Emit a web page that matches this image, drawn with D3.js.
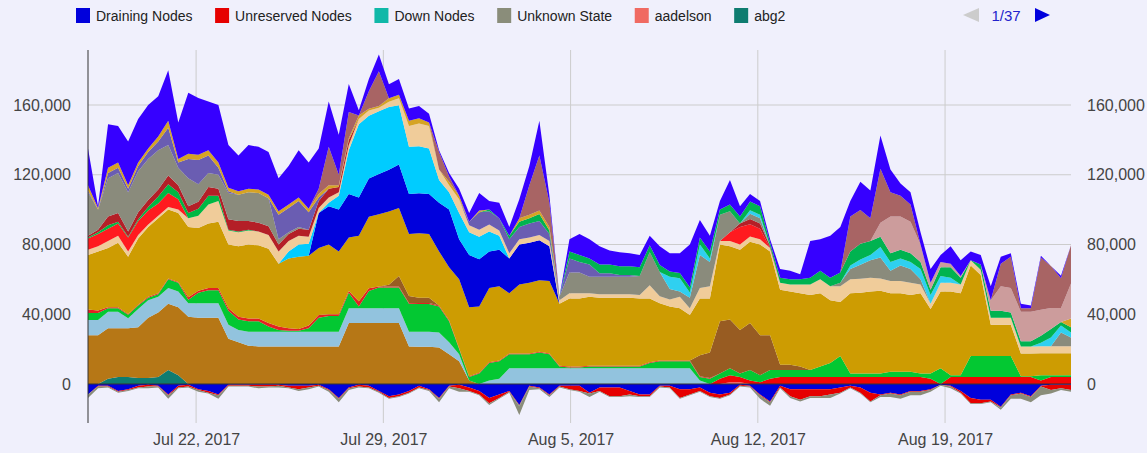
<!DOCTYPE html>
<meta charset="utf-8">
<title>Cluster usage by user</title>
<script src="https://d3js.org/d3.v7.min.js"></script>
<style>
  body { margin: 0; background: #f0f0fc; }
  svg text { font-family: "Liberation Sans", Arial, Helvetica, sans-serif; }
</style>
<body>
<div id="chart"></div>
<script>
// one sample every 9 hours, starting Jul 17 2017 23:00 (values in thousands)
var startTime = Date.UTC(2017, 6, 17, 23);
var stepHours = 9;
var tickDates = ["2017-07-22", "2017-07-29", "2017-08-05", "2017-08-12", "2017-08-19"];
var yTicks = [0, 40000, 80000, 120000, 160000];

var draining = [
  -6,-1,-1,-4,-3,-1,-0.5,-1,-6,-1,
  -0.5,-3,-4,-6,-0.5,-0.5,-0.5,-0.5,-0.5,-0.5,
  -1,-1,-1,-0.5,-3,-8,-2,-0.5,-1,-4,
  -7,-6,-4,-1,-3,-8,-1,-0.5,-2,-4,
  -8,-6,-4,-12,-1,-2,-6,-1,-1,-1,
  -5,-2,-2,-2,-4,-6,-6,-1,-1,-3,
  -3,-2,-5,-6,-5,-0.5,-1,-6,-10,-1,
  -3,-3,-3,-3,-3,-2,-1,-2,-5,-6,
  -5,-6,-4,-4,-3,-0.5,-1,-4,-8,-9,
  -9,-13,-6,-5,-7,-1,-0.5,-0.5,-0.5];
var unreserved = [
  0,-0.5,-0.5,-0.5,-0.5,-1,-1,-0.5,-0.5,-1,
  -1,-0.5,-1,-0.5,-0.5,-0.5,-0.5,-1,-1,-0.5,
  -1,-2,-1,-0.5,-0.5,-0.5,-0.5,-1,-1,-0.5,
  -1,-1,-1,-1,-0.5,-0.5,-0.5,-2,-2,-2,
  -3,-2,-0.5,-0.5,-0.5,-0.5,-0.5,-0.5,-2,-3,
  -0.5,-2,-5,-5,-2,-1,-1,-0.5,-1,-5,
  -3,-2,-2,-2,-1,-0.5,-0.5,-0.5,-0.5,-1,
  -4,-6,-4,-4,-3,-3,-1,-3,-5,-0.5,
  -0.5,-0.5,-0.5,-0.5,-0.5,0,-0.5,-1,-3,-2,
  -1,-0.5,-0.5,-0.5,-0.5,-0.5,-3,-2,-3];
var down = [
  0,0,0,0,0,0,0,0,0,0,
  0,0,0,0,0,0,0,0,0,0,
  0,0,0,0,0,0,0,0,0,0,
  0,0,0,0,0,0,0,0,0,0,
  0,0,0,-0.3,0,0,0,0,0,0,
  0,0,0,0,0,0,0,0,0,0,
  0,0,0,0,0,0,0,0,0,0,
  0,0,0,0,0,0,0,0,0,0,
  0,0,0,0,0,0,0,0,0,0,
  0,-0.3,0,0,0,0,0,0,0];
var unknown = [
  -2,-1,-0.5,-0.5,-0.5,-0.5,-1,-0.5,-2,-0.5,
  -0.5,-1,-0.5,-2,-0.5,-0.5,-0.5,-1,-0.5,-1,
  -0.5,-1,-1,-0.5,-1,-2,-1,-0.5,-0.5,-0.5,
  -0.5,-0.5,-0.5,-0.5,-0.5,-2,-1,-2,-0.5,-0.5,
  -1,-0.5,-0.5,-5,-2,-0.5,-1,-0.5,-0.5,-0.5,
  -2,-0.5,-0.5,-0.5,-1,-0.5,-0.5,-0.5,-0.5,-0.5,
  -0.5,-0.5,-0.5,-0.5,-0.5,-0.5,-0.5,-2,-2,-0.5,
  -1,-1,-1,-1,-2,-0.5,-0.5,-0.5,-0.5,-1,
  -2,-2,-2,-2,-1,-0.5,-1,-0.5,-0.5,-0.5,
  -0.5,-1,-2,-3,-3,-5,-2,-1,-1];

var aadelson = [
  0,0,0,0,0,0,0,0,0,0, 0,0,0,0,0,0,0,0,0,0, 0,0,0,0,0,0,0,0,0,0,
  0,0,0,0,0,0,0,0,0,0, 0,0,0,0,0,0,0,0,0,0, 0,0,0,0,0,0,0,0,0,0,
  0,0,0,0,1,1,0,0,0,0, 0,0,0,0,0,0,0,0,0,0, 0,0,0,0,0,0,0,0,0,0,
  0,0,0,0,0,0,0,0,0];
var abg2 = [
  0,0,3,4,4,3.5,3.5,4,8,5, 0,0,0,0,0,0,0,0,0,0, 0,0,0,0,0,0,0,0,0,0,
  0,0,0,0,0,0,0,0,0,0, 0,0,0,0,0,0,0,0,0,0, 0,0,0,0,0,0,0,0,0,0,
  0,0,0,0,0,0,0,0,0,0, 0,0,0,0,0,0,0,0,0,0, 0,0,0,0,0,0,0,0,0,0,
  0,0,0,0,0,0,0,0,0];
var redLow = [
  0,0,0,0,0,0,0,0,0,0, 0,0,0,0,0,0,0,0,0,0, 0,0,0,0,0,0,0,0,0,0,
  0,0,0,0,0,0,0,0,0,0, 0,0,0,0,0,0,0,0,0,0, 0,0,0,0,0,0,0,0,0,0,
  0,0,0,3,4,3,2,1,3,4,
  4,4,4,4,4,4,4,4,4,4,
  4,4,4,4,3,0,4,4,4,4,
  4,4,4,4,4,2,4,4,4];
var brown = [
  28,28,29,28,28,29,34.5,37,38,39,
  38.6,38,38,38,26,24,22,21.5,21.5,21.5,
  21.5,21.5,21.5,21.5,21.5,21.5,35,35,35,35,
  35,35,21.5,21.4,21.4,21,17,13,2,0,
  0,0,0,0,0,0,0,0,0,0, 0,0,0,0,0,0,0,0,0,0, 0,0,0,0,0,0,0,0,0,0,
  0,0,0,0,0,0,0,0,0,0, 0,0,0,0,0,0,0,0,0,0, 0,0,0,0,0,0,0,0,0];
var lightBlue = [
  8.7,8.7,9.5,9.5,5.7,10.5,10,9,9,9,
  7.7,8.3,8.3,8.3,8,7,8,8.5,8.5,8.5,
  8.5,8.5,8.5,8.5,8.5,8.5,8.4,8.4,8.4,8.4,
  8.4,8.4,8.5,8.5,8.5,8.5,7,4,0,0,
  2,3,9,9,9,9,9,9,9,9,
  9,9,9,9,9,9,9,9,9,9,
  9,2,0,0,0,0,0,0,0,0,
  0,0,0,0,0,0,0,0,0,0, 0,0,0,0,0,0,0,0,0,0, 0,0,0,0,0,0,0,0,0];
var green = [
  4,4,2,2,2,2,1.5,1.5,5,5,
  2,6,7.5,7.5,8,6,6,6,3,1,
  0.5,0.5,2,8,9,9,9,1,10,12,
  12,12,16,16,16,15,12,3,2,6,
  10,10,8,8,8,9,8,1,0.5,0.5,
  1,1,1,1,1,1,3,4,4,4,
  4,2,3,3,4,2,6,4,5,4,
  4,4,4,6,8,12,2,2,2,2,
  3,3,3,2,3,9,1,1,12,12,
  12,12,12,0.5,0.5,3,1,1,1];
var redThin = [
  2,1.5,0.5,0.5,0.5,0.5,0.5,0.5,0.5,0.5,
  1.5,1.2,1.2,1.2,1.5,1.5,1.5,1.5,2,2,
  1.5,1,1.5,1.5,1,1,1,3,1.5,0.5,
  0.5,0.5,0.5,0.5,0.5,0.5,0.5,0.5,0.5,0.5,
  0.5,0.5,0.5,0.5,0.5,0.5,0.5,0.5,0.5,0.5,
  0.5,0.5,0.5,0.5,0.5,0.5,0.5,0.5,0.5,0.5,
  0.5,0.5,0.5,0,0,0,0,0,0,0,
  0,0,0,0,0,0,0,0,0,0, 0,0,0,0,0,0,0,0,0,0, 0,0,0,0,0,0,0,0,0];
var darkBrown = [
  0,0,0,0,0,0,0,0,0,0, 0,0,0,0,0,0,0,0,0,0, 0,0,0,0,0,0,0,0,0,0,
  1,6,4,3,3,0,0,0,0,0,
  0,0,0,0,0,0,0,0,0,0, 0,0,0,0,0,0,0,0,0,0,
  0,12,14.5,30,28,25,27,23,20,3,
  3,2,0,0,0,0,0,0,0,0,
  0,0,0,0,0,0,0,0,0,0, 0,0,0,0,0,0,0,0,0];
var gold = [
  31.3,33.8,34,37,32.8,38,40,43,39.5,39.5,
  40.2,36,37,38,36.5,40.5,42.5,42,42.5,36,
  40,41.5,40,38.5,40,36,30.6,37.6,41,41.5,
  42,39,35.5,37,36.6,31,30.5,39.5,39.5,38,
  42.5,42.5,34.5,39.5,40.5,41,41.5,35.5,39,39,
  39.5,39,39,39,39,38.5,36.5,32.8,31,30,
  26,32.5,31,44,42,46,46.6,52,48,43,
  42,42,43,42,36,31,46,46.4,47,47.5,
  45,45,44,46,37,44,48,47,52,46.5,
  18,18,18,13,13,12.6,12.6,12.6,12.6];
var deepBlue = [
  0,0,0,0,0,0,0,0,0,0, 0,0,0,0,0,0,0,0,0,0,
  0,0,0,20,22,24,25,22,22,23,
  24,25,23,23,23,28,33,23,30,27,
  21,21,20,23,23,23,20,0,0,0,
  0,0,0,0,0,0,0,0,0,0, 0,0,0,0,0,0,0,0,0,0, 0,0,0,0,0,0,0,0,0,0,
  0,0,0,0,0,0,0,0,0,0, 0,0,0,0,0,0,0,0,0];
var cyan = [
  0,0,0,0,0,0,0,0,0,0, 0,0,0,0,0,0,0,0,0,0,
  4,7,7,0,2,8,25,42,36,36,
  36,34,27,27,26,13,10,15,13,13,
  11.5,8,0,0,0,0,0,0,0,0,
  0,0,0,0,0,0,0,0,0,0, 0,0,0,0,0,0,0,0,0,0, 0,0,0,0,0,0,0,0,0,0,
  0,0,0,0,0,0,0,0,0,0, 0,0,0,0,0,0,0,0,0];
var wheat = [
  3,3,4,4,3,2,1.5,1.5,1.5,2,
  5,7,11,12,8,8,8,8,8,7,
  6,5,4,3,3,2,3,3,3,2,
  3,4,12,13,13,6,4,8,4,4,
  4,3,3,3,3,3,3,2,3,3,
  2,2,2,2,2,2,7.6,4,4,6.5,
  4,6,7,2,3,3,3,3,2,4,
  4,5,6,8,8,9,8,8,8,7,
  7,7,7,5,3,5,5,5,3,3,
  4,4,4,4,4,4,4,4,4];
var brightRed = [
  6.5,7,7,7,8,8,8,7,8,6,
  0,0,0,0,0,0,0,0,0,0, 0,0,0,0,0,0,0,0,0,0, 0,0,0,0,0,0,0,0,0,0,
  0,0,0,0,0,0,0,0,0,0, 0,0,0,0,0,0,0,0,0,0,
  0,0,0,0,5,10,7,6,0,0,
  0,0,0,0,0,0,0,0,0,0, 0,0,0,0,0,0,0,0,0,0, 0,0,0,0,0,0,0,0,0];
var green2 = [
  0.5,1,2,1,0.5,1,2,4,5,4,
  3,4,5,3,0.5,0.5,0.5,0,0,0,
  0,0,0,0,0,0,0,0,0,0, 0,0,0,0,0,0,0,0,0,0, 0,0,0,0,0,0,0,0,0,0,
  0,0,0,0,0,0,0,0,0,0, 0,0,0,0,0,0,0,0,0,0, 0,0,0,0,0,0,0,0,0,0,
  0,0,0,0,0,0,0,0,0,0, 0,0,0,0,0,0,0,0,0];
var darkRed = [
  1,1.5,5,5,3,4,4,4,5,4,
  4,4,5,4,6,6,5,5,5,4,
  4,4,4,4,5,3,3,0,0,0,
  0,0,0,0,0,0,0,0,0,0, 0,0,0,0,0,0,0,0,0,0, 0,0,0,0,0,0,0,0,0,0,
  0,0,0,0,0,2,3,3,1,0,
  0,0,0,0,0,0,0,0,0,0, 0,0,0,0,0,0,0,0,0,0, 0,0,0,0,0,0,0,0,0];
var gray = [
  25,11.5,22,23,22.5,23.5,23.5,22.5,17.5,10,
  16,10,8,8,15,15,16.5,17,16,3,
  1,1,0,0,0,0,0,0,0,0,
  0,0,0,0,0,0,0,0,0,0,
  0,0,0,0,0,0,0,2,12,12,
  9.5,10,10,10,10,11,19,14,6,3,
  6,19,14,15,12,0,3,3,0,0,
  0,0,0,0,0,2,6,8,10,12,
  6,9,8,3,0,0,0,0,0,0,
  0,0,0,0,0,0,0,8,5];
var slate = [
  1,0,3,3,2,3,4,5,10,3,
  11,14,10,4,1,0,0,0,0,14,
  14,15,10,2,0,0,0,0,0,0,
  0,0,0,0,0,0,0,0,2,10,
  7.5,7,8,7,8,8,4,0,8,6,
  7,2,2,1,1,0,0,0,0,0,
  0,0,0,0,0,0,0,0,0,0, 0,0,0,0,0,0,0,0,0,0, 0,0,0,0,0,0,0,0,0,0,
  0,0,0,0,0,0,0,0,0];
var cyan2 = [
  0,0,0,0,0,0,0,0,0,0, 0,0,0,0,0,0,0,0,0,0, 0,0,0,0,0,0,0,0,0,0,
  0,0,0,0,0,0,0,0,0,0, 0,0,0,0,0,0,0,0,0,0,
  0,0,0,0,0,0,0,0,7,7.7,
  3,6,2,0,0,0,2,2,0,0,
  0,0,0,0,0,0,2,3,3,6,
  5,4,4,6,5,4,3,0,0,0,
  0,0,0,0,0,2,5,4,3];
var green3 = [
  0,0,0,0,0,0,0,0,0,0, 0,0,0,0,0,0,0,0,0,0, 0,0,0,0,0,0,0,0,0,0,
  0,0,0,0,0,0,0,0,0,0,
  1,0,2,3,3,4,2,0,4,4,
  3.5,5,5,5,5,5,4,4,3,3,
  3,4,4,3,4,4,5,5,2,3,
  3,3,4,5,5,6,8,9,8,6,
  5,5,5,4,3,5,6,4,0,3,
  4,4,3,3,3,4,5,2,3];
var tan = [
  3,1,3,3,2,2,2,3,4,2,
  3,3,3,3,2,2,2,2,2,2,
  2,2,2,2,2,1,1,2,1,1,
  2,2,3,3,2,0,2,2,0,1,
  0,0,0,2,2,2,2,0,0,0,
  0,0,0,0,0,0,0,0,0,0, 0,0,0,0,0,0,0,0,0,0, 0,0,0,0,0,0,0,0,0,0,
  0,0,0,0,0,0,0,0,0,0,
  0,0,0,0,0,0,0,0,5];
var pink = [
  0,0,0,0,0,0,0,0,0,0, 0,0,0,0,0,0,0,0,0,0, 0,0,0,0,0,0,0,0,0,0,
  0,0,0,0,0,0,0,0,0,0, 0,0,0,0,0,0,0,0,0,0, 0,0,0,0,0,0,0,0,0,0,
  0,0,0,0,0,0,0,0,0,0,
  0,0,0,0,0,0,0,0,0,8,
  21,19,18,10,4,3,2,1,0,0,
  6,14,14,17,17,15,12,8,20];
var rosy = [
  0,0,0,0,0,0,0,0,0,0, 0,0,0,0,0,0,0,0,0,0,
  0,0,0,3,22,6,15,0,10,20,
  0,0,0,0,0,10,3,0,0,0,
  0,0,0,0,17,31.5,14,0,0,0,
  0,0,0,0,0,0,0,0,0,0, 0,0,0,0,0,0,0,0,0,0,
  0,0,0,0,0,0,20,19.4,13,31,
  14,12,10,0,0,0,0,0,0,0,
  0,13,18,2,2,30,24,17,22];
var violet = [
  21,1,25,21,25,25,25,23,29,21,
  35,32.5,28,33,24.5,20.5,25,24.5,24.5,19,
  22,27,26.5,23,26,23,16,3,7,9.5,
  8,9,7,7,5,1,2,4,5,10,
  5,9,5,11,11,20,4,0,7,12,
  11,10.5,8,8,7.5,7,5.4,10.7,10.5,11.3,
  24.5,10,9,5,14,6,4.4,3,2,5,
  5,3,21,18,24,26,9,16.2,16,19,
  13,7,7,7,8,4,10,9,5,5.5,
  8,4,2,2.5,1.5,1,0,1.5,0];

// node-state series (negative, first one nearest zero)
var stateSeries = [
  ["Draining Nodes", draining, "#0000dc"],
  ["Unreserved Nodes", unreserved, "#e60000"],
  ["Down Nodes", down, "#10b8a8"],
  ["Unknown State", unknown, "#8a8d7a"]
];
// user series, stacked upward from zero in this order
var userSeries = [
  ["aadelson", aadelson, "#f06a62"],
  ["abg2", abg2, "#0e7c70"],
  ["u_redLow", redLow, "#f20505"],
  ["u_brown", brown, "#b67716"],
  ["u_lightBlue", lightBlue, "#92c3de"],
  ["u_green", green, "#03c832"],
  ["u_redThin", redThin, "#e32222"],
  ["u_darkBrown", darkBrown, "#985c22"],
  ["u_gold", gold, "#cd9c02"],
  ["u_deepBlue", deepBlue, "#0000dc"],
  ["u_cyan", cyan, "#00ccff"],
  ["u_wheat", wheat, "#f0cc9a"],
  ["u_brightRed", brightRed, "#ff1a1f"],
  ["u_green2", green2, "#00b843"],
  ["u_darkRed", darkRed, "#b41f27"],
  ["u_gray", gray, "#8a8b7c"],
  ["u_slate", slate, "#6a5db2"],
  ["u_cyan2", cyan2, "#2fd0f0"],
  ["u_green3", green3, "#00b350"],
  ["u_tan", tan, "#d6a324"],
  ["u_pink", pink, "#cc9c9c"],
  ["u_rosy", rosy, "#a86464"],
  ["u_violet", violet, "#3600ff"]
];
var series = stateSeries.concat(userSeries);
var legendCount = 6;

var W = 1147, H = 453;
var plotLeft = 88, plotRight = 1071, plotTop = 50, plotBottom = 423;

var n = violet.length;
var rows = d3.range(n).map(function(i) {
  var r = { t: new Date(startTime + i * stepHours * 3600e3) };
  series.forEach(function(s) { r[s[0]] = (s[1][i] || 0) * 1000; });
  return r;
});
var colorOf = {};
series.forEach(function(s) { colorOf[s[0]] = s[2]; });

var negStack = d3.stack().keys(stateSeries.map(function(s) { return s[0]; }))(rows);
var posStack = d3.stack().keys(userSeries.map(function(s) { return s[0]; }))(rows);
var stacked = negStack.concat(posStack);

var x = d3.scaleUtc()
  .domain([rows[0].t, rows[n - 1].t])
  .range([plotLeft, plotRight]);
var y = d3.scaleLinear()
  .domain([-22366, 191541])
  .range([plotBottom, plotTop]);

var svg = d3.select("#chart").append("svg")
  .attr("width", W).attr("height", H);
svg.append("rect").attr("width", W).attr("height", H).attr("fill", "#f0f0fc");

svg.append("clipPath").attr("id", "plot")
  .append("rect").attr("x", plotLeft).attr("y", plotTop)
  .attr("width", plotRight - plotLeft).attr("height", plotBottom - plotTop);

var parseDay = d3.utcParse("%Y-%m-%d");
var tickTimes = tickDates.map(parseDay);

// grid
svg.append("g").selectAll("line").data(yTicks.filter(function(v) { return v > 0; }))
  .join("line")
  .attr("x1", plotLeft).attr("x2", plotRight)
  .attr("y1", function(d) { return y(d); }).attr("y2", function(d) { return y(d); })
  .attr("stroke", "#cccccc");
svg.append("g").selectAll("line").data(tickTimes)
  .join("line")
  .attr("x1", function(d) { return x(d); }).attr("x2", function(d) { return x(d); })
  .attr("y1", plotTop).attr("y2", plotBottom)
  .attr("stroke", "#cccccc");

var area = d3.area()
  .x(function(d) { return x(d.data.t); })
  .y0(function(d) { return y(d[0]); })
  .y1(function(d) { return y(d[1]); });

svg.append("g").attr("clip-path", "url(#plot)")
  .selectAll("path").data(stacked)
  .join("path")
  .attr("d", area)
  .attr("fill", function(d) { return colorOf[d.key]; });

// zero baseline and left axis line
svg.append("line")
  .attr("x1", plotLeft).attr("x2", plotRight).attr("y1", y(0)).attr("y2", y(0))
  .attr("stroke", "#333").attr("stroke-width", 1.2);
svg.append("line")
  .attr("x1", plotLeft).attr("x2", plotLeft).attr("y1", plotTop).attr("y2", plotBottom)
  .attr("stroke", "#333");

var fmt = d3.format(",");
var leftAxis = svg.append("g").attr("transform", "translate(" + (plotLeft - 17) + ",0)")
  .call(d3.axisLeft(y).tickValues(yTicks).tickFormat(fmt).tickSize(0).tickPadding(0));
var rightAxis = svg.append("g").attr("transform", "translate(" + (plotRight + 16) + ",0)")
  .call(d3.axisRight(y).tickValues(yTicks).tickFormat(fmt).tickSize(0).tickPadding(0));
var bottomAxis = svg.append("g").attr("transform", "translate(0," + (plotBottom + 11) + ")")
  .call(d3.axisBottom(x).tickValues(tickTimes).tickFormat(d3.utcFormat("%b %-d, %Y")).tickSize(0).tickPadding(0));
[leftAxis, rightAxis, bottomAxis].forEach(function(a) {
  a.select(".domain").remove();
  a.selectAll("text").attr("font-size", "16px").attr("fill", "#444")
    .attr("font-family", "'Liberation Sans', Arial, sans-serif");
});

// legend
var legend = svg.append("g");
var lx = 76;
series.slice(0, legendCount).forEach(function(s) {
  legend.append("rect").attr("x", lx).attr("y", 8).attr("width", 14).attr("height", 15)
    .attr("fill", s[2]);
  var t = legend.append("text").attr("x", lx + 20).attr("y", 20.5)
    .attr("font-size", "14px").attr("fill", "#222").text(s[0]);
  lx += 20 + t.node().getComputedTextLength() + 22.6;
});
legend.append("path").attr("d", "M963,15L979,8L979,22Z").attr("fill", "#cccccc");
legend.append("text").attr("x", 991.5).attr("y", 20.5).attr("font-size", "15px")
  .attr("fill", "#2222cc").text("1/37");
legend.append("path").attr("d", "M1035,8L1050,15L1035,22Z").attr("fill", "#0000dd");
</script>
</body>
